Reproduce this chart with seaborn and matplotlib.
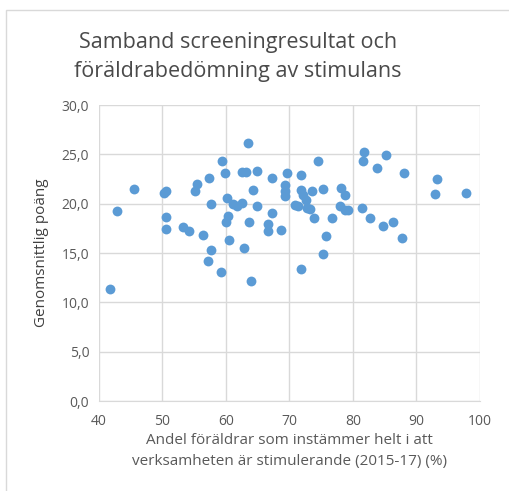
import matplotlib
matplotlib.use("Agg")
import matplotlib.pyplot as plt
import matplotlib.patches as mpatches
from matplotlib.ticker import FuncFormatter
import seaborn as sns
import pandas as pd

# Andel föräldrar (%) och genomsnittlig poäng
andel = [41.7, 42.9, 45.5, 50.2, 50.5, 50.5, 50.6, 53.2, 54.2, 55.1,
         55.5, 56.4, 57.4, 57.6, 57.7, 57.1, 59.2, 59.4, 59.8, 60.2,
         61.1, 61.8, 62.5, 62.5, 63.1, 63.4, 64.3, 64.9, 64.9, 60.4,
         60.0, 63.7, 60.5, 62.9, 63.9, 66.7, 66.7, 67.2, 67.3, 68.7,
         69.3, 69.3, 69.3, 69.6, 70.9, 71.4, 71.9, 71.9, 72.1, 72.6,
         72.8, 73.2, 73.5, 73.8, 71.9, 74.5, 75.3, 75.3, 75.8, 76.7,
         78.1, 78.8, 78.0, 78.7, 79.3, 81.4, 81.7, 81.6, 82.7, 83.8,
         84.8, 85.2, 86.3, 87.8, 88.0, 92.9, 93.3, 97.8]
poang = [11.4, 19.3, 21.5, 21.1, 21.3, 18.7, 17.4, 17.6, 17.2, 21.3,
         22.0, 16.8, 22.6, 20.0, 15.3, 14.2, 13.1, 24.3, 23.1, 20.6,
         20.0, 19.8, 20.1, 23.2, 23.2, 26.2, 21.4, 23.3, 19.8, 18.8,
         18.2, 18.2, 16.3, 15.5, 12.2, 17.9, 17.2, 19.1, 22.6, 17.3,
         21.9, 21.3, 20.8, 23.1, 19.9, 19.8, 22.9, 21.4, 20.9, 20.4,
         19.6, 19.5, 21.3, 18.6, 13.4, 24.3, 21.5, 14.9, 16.7, 18.6,
         21.6, 20.9, 19.8, 19.4, 19.4, 19.6, 25.2, 24.3, 18.6, 23.6,
         17.7, 24.9, 18.2, 16.5, 23.1, 21.0, 22.5, 21.1]

df = pd.DataFrame({"andel": andel, "poang": poang})

sns.set_style("whitegrid")
plt.rcParams["font.family"] = ["Open Sans", "DejaVu Sans"]

fig = plt.figure(figsize=(5.1, 4.91), dpi=100)
ax = fig.add_axes([0.194, 0.183, 0.747, 0.603])

sns.scatterplot(data=df, x="andel", y="poang", color="#5B9BD5", s=50,
                edgecolor="#5B9BD5", linewidth=0, ax=ax)

ax.set_xlim(40, 100)
ax.set_ylim(0, 30)
ax.set_xticks(range(40, 101, 10))
ax.set_yticks(range(0, 31, 5))
ax.yaxis.set_major_formatter(FuncFormatter(lambda v, p: f"{v:.1f}".replace(".", ",")))
ax.grid(True, color="#D9D9D9", linewidth=1)
for side in ["left", "right", "top"]:
    ax.spines[side].set_visible(False)
ax.spines["bottom"].set_color("#D9D9D9")
ax.tick_params(colors="#595959", labelsize=10, length=0)
ax.tick_params(axis="x", pad=9)
ax.tick_params(axis="y", pad=7)

ax.set_xlabel("Andel föräldrar som instämmer helt i att\nverksamheten är stimulerande (2015-17) (%)",
              color="#595959", fontsize=11, labelpad=3, linespacing=1.55)
ax.set_ylabel("Genomsnittlig poäng", color="#404040", fontsize=11, labelpad=9)

fig.text(0.467, 0.884, "Samband screeningresultat och\nföräldrabedömning av stimulans",
         ha="center", va="center", fontsize=15.5, color="#4a4a4a", linespacing=1.45)

# ram runt diagramområdet
fig.patches.append(mpatches.Rectangle((6 / 510, -0.1), 1.0, 1.1 - 10 / 491,
                                      transform=fig.transFigure, fill=False,
                                      edgecolor="#D9D9D9", linewidth=1))

fig.savefig("out.png", dpi=100, facecolor="white")
